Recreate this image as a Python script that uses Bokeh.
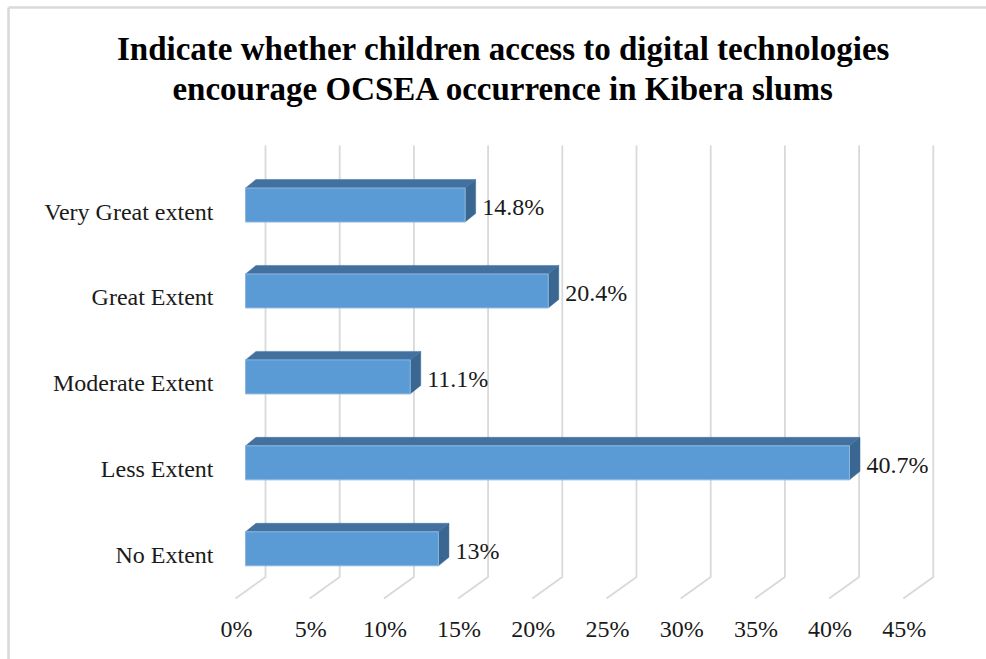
from bokeh.plotting import figure
from bokeh.models import Range1d
from bokeh.core.properties import value
from bokeh.embed import file_html
from bokeh.resources import INLINE

# ---------------- data ----------------
title_lines = [
    "Indicate whether children access to digital technologies",
    "encourage OCSEA occurrence in Kibera slums",
]
categories = ["Very Great extent", "Great Extent", "Moderate Extent", "Less Extent", "No Extent"]
percent_values = [14.8, 20.4, 11.1, 40.7, 13.0]
value_labels = ["14.8%", "20.4%", "11.1%", "40.7%", "13%"]
tick_values = [0, 5, 10, 15, 20, 25, 30, 35, 40, 45]
tick_labels = ["0%", "5%", "10%", "15%", "20%", "25%", "30%", "35%", "40%", "45%"]

# ---------------- layout ----------------
W, H = 986, 659
X0 = 245.0      # page px of 0% on bar front
PPX = 14.84     # px per percent
Y0 = 548.3      # page px of the lowest category centre
PPY = 85.95     # px per category step


def dxp(px):
    return px / PPX


def dyp(px):  # downward pixels -> data units
    return -px / PPY


def ypx(py):  # page px -> data y
    return (Y0 - py) / PPY


def xpx(px):
    return (px - X0) / PPX


FONT = value("Liberation Serif")
GRID = "#d9d9d9"
FRONT = "#5b9bd5"
TOP = "#43719f"
SIDE = "#3a6792"
TXT = "#1a1a1a"

p = figure(
    width=W, height=H,
    x_range=Range1d(xpx(0), xpx(W)),
    y_range=Range1d(ypx(H), ypx(0)),
    output_backend="svg", toolbar_location=None,
    x_axis_type=None, y_axis_type=None,
    min_border=0, outline_line_color=None,
)
p.outline_line_alpha = 0
p.grid.visible = False
p.background_fill_color = "white"
p.border_fill_color = "white"

# chart border (left and top only; the chart area runs past the right/bottom)
p.segment(x0=[xpx(8), xpx(8)], y0=[ypx(H + 5), ypx(7)], x1=[xpx(8), xpx(W + 5)], y1=[ypx(7), ypx(7)],
          line_color=GRID, line_width=2.5)

n = len(categories)
ypos = [n - 1 - i for i in range(n)]

# gridlines: back wall vertical + floor diagonal
BACK = dxp(20)
FRONTD = dxp(-10)
y_top = ypx(145)
y_back_floor = ypx(576.5)
y_front_floor = ypx(598)
gx = [[t + BACK, t + BACK, t + FRONTD] for t in tick_values]
gy = [[y_top, y_back_floor, y_front_floor] for _ in tick_values]
p.multi_line(gx, gy, line_color=GRID, line_width=1.8)

# tick labels
p.text(x=[t + FRONTD + dxp(1) for t in tick_values], y=[ypx(628)] * len(tick_values), text=tick_labels,
       text_font=FONT, text_font_size="24px", text_align="center", text_baseline="middle",
       text_color=TXT)

# bars
BH = 34 / PPY
BDX = dxp(10.5)
BDY = 8.5 / PPY
for v, y in zip(percent_values, ypos):
    b, t = y - BH / 2, y + BH / 2
    p.patch([v, v, v + BDX, v + BDX], [b, t, t + BDY, b + BDY], fill_color=SIDE, line_color=SIDE, line_width=0.5)
    p.patch([0, v, v + BDX, BDX], [t, t, t + BDY, t + BDY], fill_color=TOP, line_color=TOP, line_width=0.5)
p.quad(left=[0] * n, right=percent_values, bottom=[y - BH / 2 for y in ypos], top=[y + BH / 2 for y in ypos],
       fill_color=FRONT, line_color="#8db6df", line_width=1)

# data labels
p.text(x=[v + dxp(17) for v in percent_values], y=[y + dyp(2) for y in ypos], text=value_labels,
       text_font=FONT, text_font_size="24px", text_align="left", text_baseline="middle",
       text_color=TXT)

# category labels
p.text(x=[xpx(213)] * n, y=[y + dyp(6.5) for y in ypos], text=categories,
       text_font=FONT, text_font_size="24px", text_align="right", text_baseline="middle",
       text_color=TXT)

# title
p.text(x=[xpx(503)] * 2, y=[ypx(48), ypx(88)], text=title_lines,
       text_font=FONT, text_font_size="33px", text_font_style="bold", text_align="center",
       text_baseline="middle", text_color="black")

open("out.html", "w").write(file_html(p, INLINE))
